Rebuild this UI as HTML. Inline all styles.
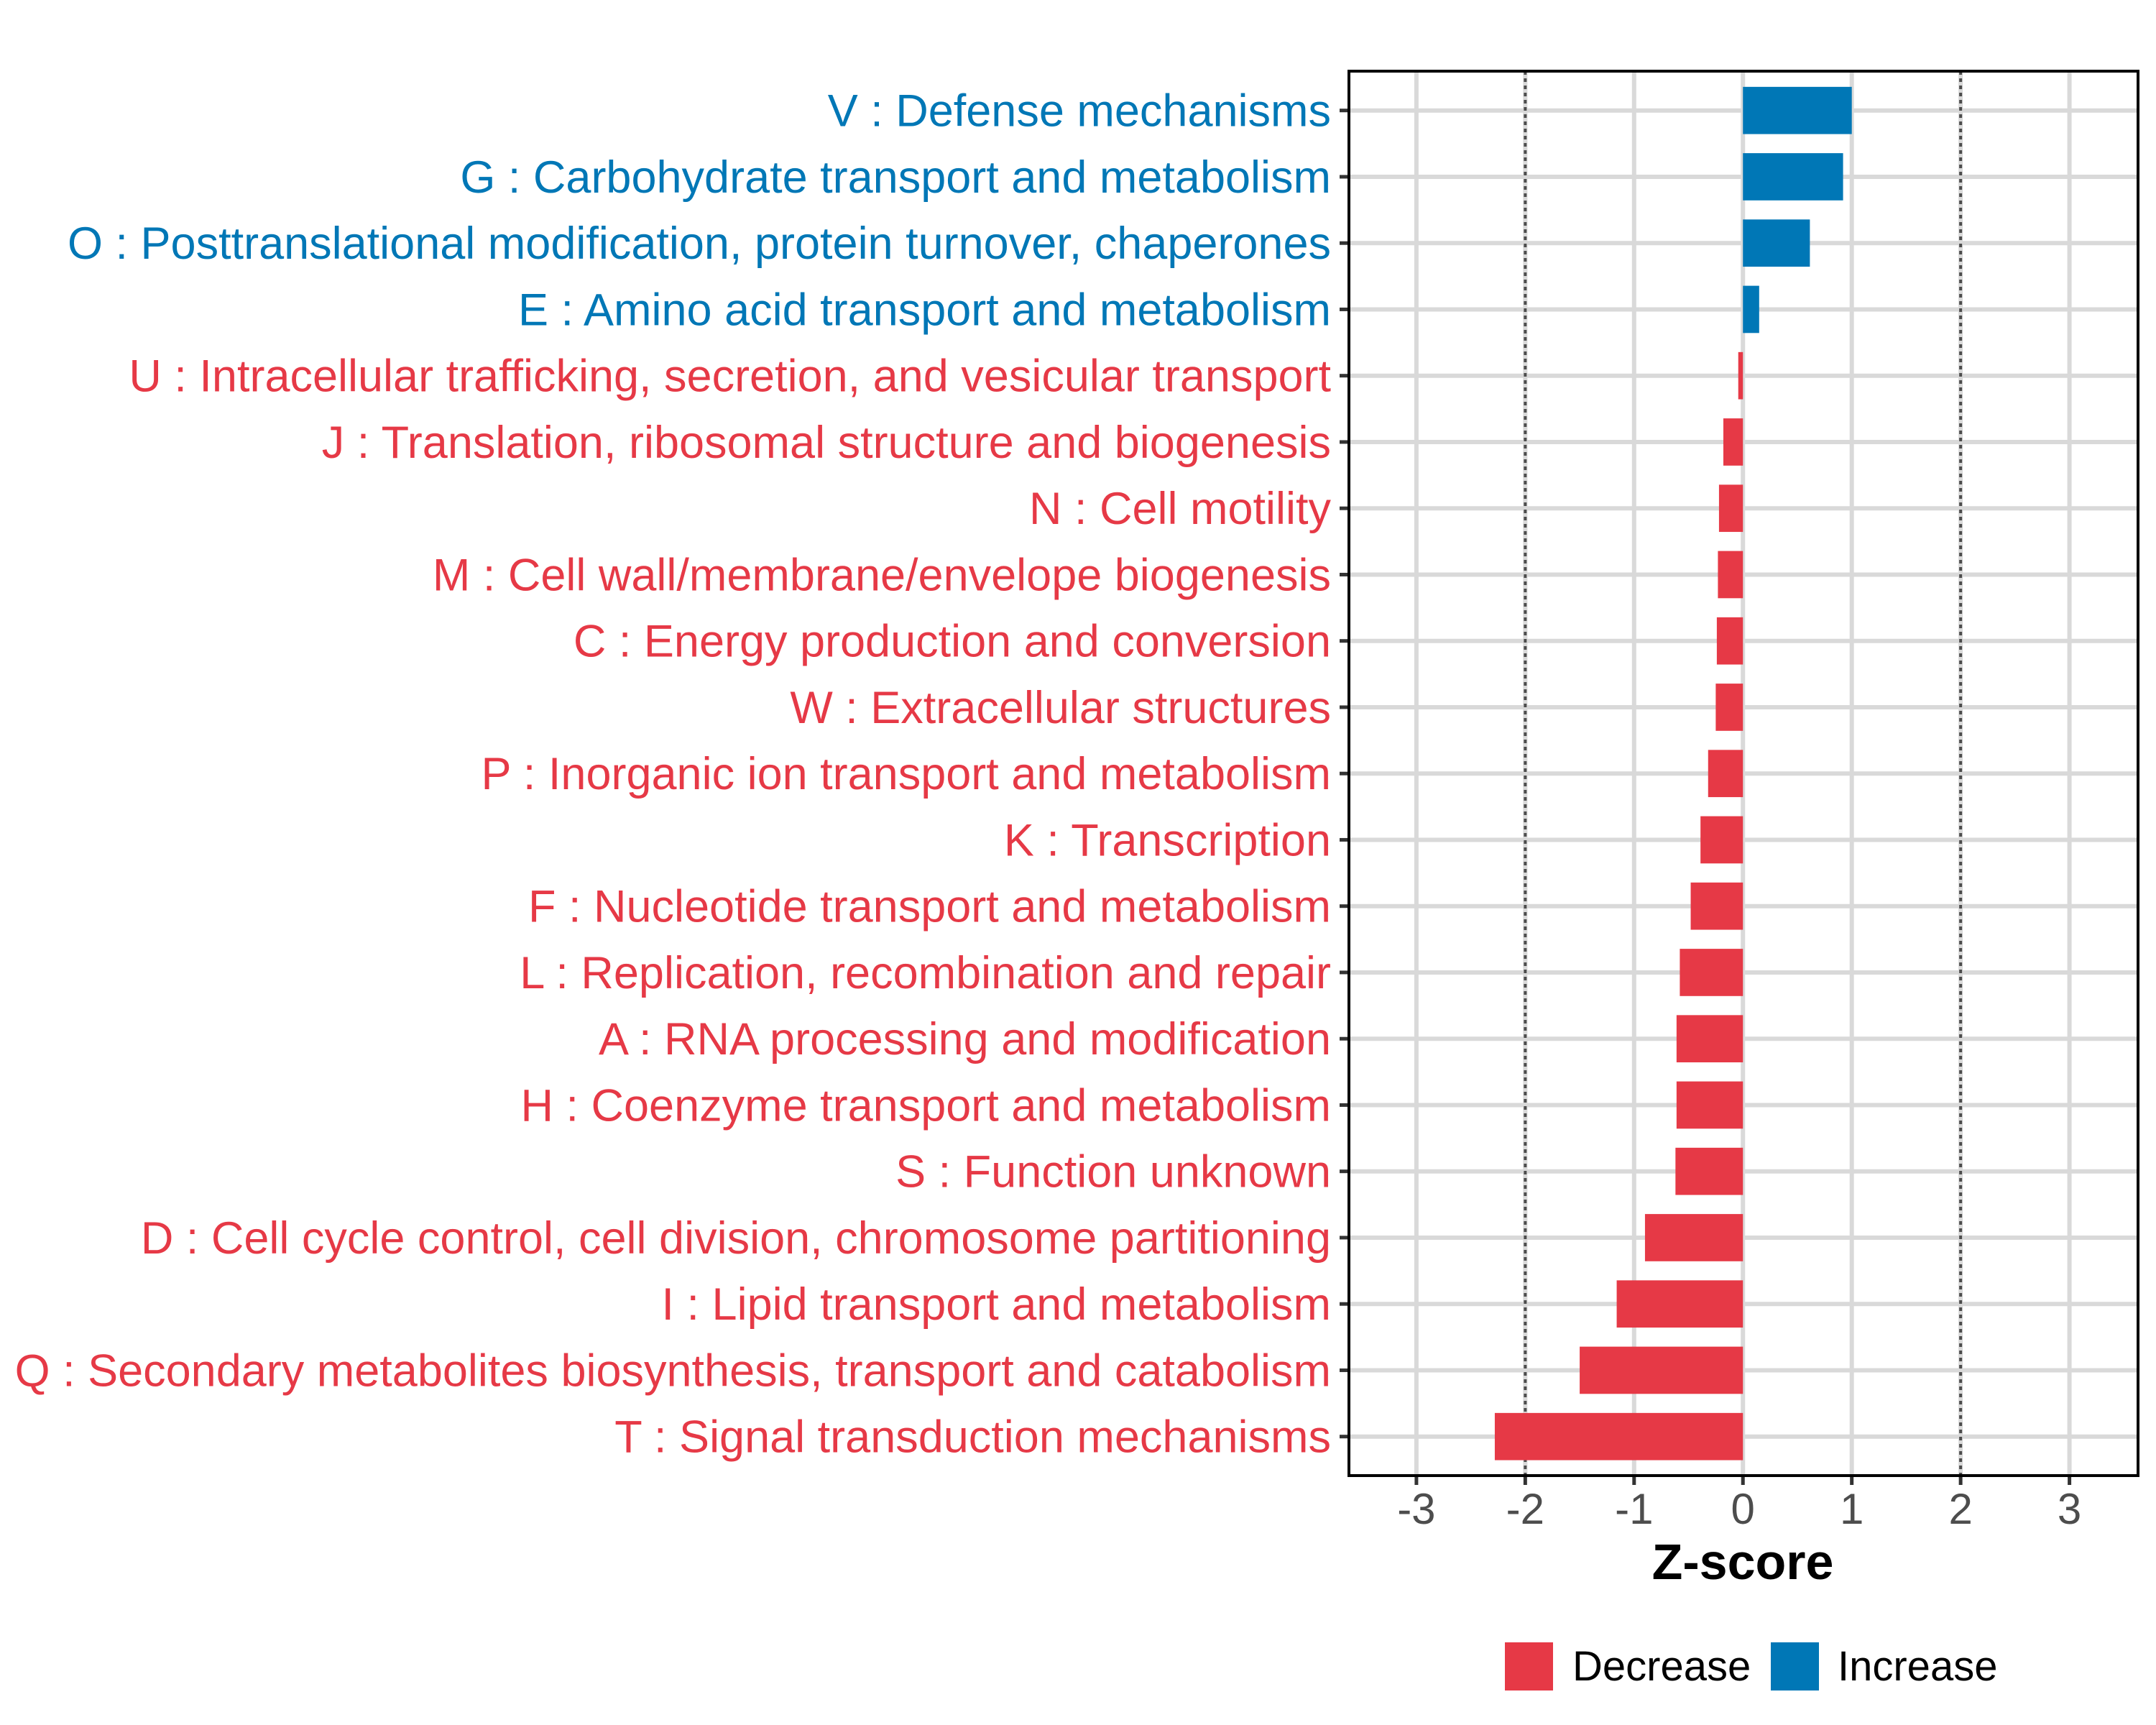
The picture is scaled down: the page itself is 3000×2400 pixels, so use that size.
<!DOCTYPE html>
<html><head><meta charset="utf-8"><style>
html,body{margin:0;padding:0;background:#fff;}
svg{display:block;font-family:"Liberation Sans",sans-serif;}
</style></head>
<body>
<svg id="chart" width="3000" height="2400" viewBox="0 0 3000 2400" xmlns="http://www.w3.org/2000/svg">
<rect x="0" y="0" width="3000" height="2400" fill="#fff"/>
<g id="grid"></g>
<g id="bars"></g>
<g id="ylabels"></g>
<g id="xaxis"></g>
<rect x="1877" y="99" width="1098" height="1954" fill="none" stroke="#000" stroke-width="4"/>
<text x="2425" y="2197" text-anchor="middle" font-size="70" font-weight="bold" fill="#000">Z-score</text>
<g>
<rect x="2094" y="2285" width="67" height="67" fill="#E63946"/>
<text x="2188" y="2338" font-size="58" fill="#000">Decrease</text>
<rect x="2464" y="2285" width="67" height="67" fill="#0077B6"/>
<text x="2557" y="2338" font-size="58" fill="#000">Increase</text>
</g>
</svg>
<script>
const categories = ["V : Defense mechanisms","G : Carbohydrate transport and metabolism","O : Posttranslational modification, protein turnover, chaperones","E : Amino acid transport and metabolism","U : Intracellular trafficking, secretion, and vesicular transport","J : Translation, ribosomal structure and biogenesis","N : Cell motility","M : Cell wall/membrane/envelope biogenesis","C : Energy production and conversion","W : Extracellular structures","P : Inorganic ion transport and metabolism","K : Transcription","F : Nucleotide transport and metabolism","L : Replication, recombination and repair","A : RNA processing and modification","H : Coenzyme transport and metabolism","S : Function unknown","D : Cell cycle control, cell division, chromosome partitioning","I : Lipid transport and metabolism","Q : Secondary metabolites biosynthesis, transport and catabolism","T : Signal transduction mechanisms"];
const zscores = [1.0,0.92,0.615,0.149,-0.043,-0.18,-0.22,-0.23,-0.24,-0.25,-0.32,-0.39,-0.48,-0.58,-0.61,-0.61,-0.62,-0.90,-1.16,-1.50,-2.28];
const xTicks = [-3,-2,-1,0,1,2,3];
const xTickLabels = ["-3","-2","-1","0","1","2","3"];
const thresholds = [-2,2];

const NS="http://www.w3.org/2000/svg";
const X0=1877,X1=2975,XMIN=-3.62,XMAX=3.63;
const xs=v=>X0+(v-XMIN)/(XMAX-XMIN)*(X1-X0);
const Y0=153.7,STEP=92.25;
const ys=i=>Y0+i*STEP;
const BLUE="#0077B6",RED="#E63946";
function mk(tag,attrs,parent){const e=document.createElementNS(NS,tag);for(const k in attrs)e.setAttribute(k,attrs[k]);document.getElementById(parent).appendChild(e);return e;}

xTicks.forEach((t,i)=>{
  const l=mk('line',{x1:xs(t),x2:xs(t),y1:99,y2:2053,stroke:'#d9d9d9','stroke-width':6},'grid');
  
  
});
categories.forEach((c,i)=>{
  const l=mk('line',{x1:X0,x2:X1,y1:ys(i),y2:ys(i),stroke:'#d9d9d9','stroke-width':6},'grid');
  
  
});
thresholds.forEach(t=>{
  const l=mk('line',{x1:xs(t),x2:xs(t),y1:99,y2:2053,stroke:'#4d4d4d','stroke-width':4,'stroke-dasharray':'5 5'},'grid');
  
  
});

const BH=65.7;
categories.forEach((c,i)=>{
  const v=zscores[i];
  const col=v>=0?BLUE:RED;
  const x=Math.min(xs(0),xs(v)),w=Math.abs(xs(v)-xs(0));
  const r=mk('rect',{x:x,y:ys(i)-BH/2,width:Math.max(w,1),height:BH,fill:col},'bars');
  
  
  const tk=mk('line',{x1:X0-13,x2:X0,y1:ys(i),y2:ys(i),stroke:'#333','stroke-width':5},'ylabels');
  
  
  const t=mk('text',{x:1852,y:ys(i)+22,'text-anchor':'end','font-size':63,fill:col},'ylabels');
  t.textContent=c;
  
  
});

xTicks.forEach((t,i)=>{
  const l=mk('line',{x1:xs(t),x2:xs(t),y1:2053,y2:2066,stroke:'#333','stroke-width':5},'xaxis');
  
  
  const tx=mk('text',{x:xs(t),y:2120,'text-anchor':'middle','font-size':60,fill:'#4d4d4d'},'xaxis');
  tx.textContent=xTickLabels[i];
  
  
});
</script>
</body></html>
